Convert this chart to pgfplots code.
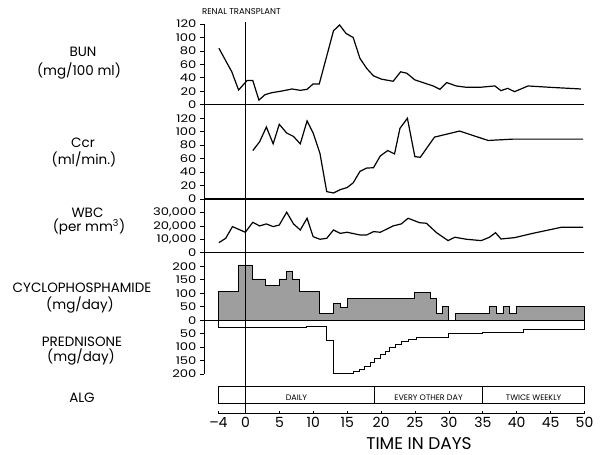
\documentclass[border=0pt]{standalone}
\usepackage{fontspec}
\setmainfont{Poppins}
\newfontfamily\tickfont[FakeStretch=1.25]{Poppins}
\usepackage{pgfplots}
\pgfplotsset{compat=1.18}
\newcommand{\lab}{\fontsize{13.5}{14}\selectfont}
\begin{document}
\begin{tikzpicture}
\path (0pt,0pt) rectangle (600pt,455pt);
\begin{axis}[at={(204pt,81pt)}, anchor=south west, x=6.78pt, y=13.46pt,
  xmin=-6.1, xmax=50, ymin=0, ymax=26, enlargelimits=false, clip=false,
  axis y line*=left, axis x line=none, xtick=\empty,
  ytick={0,...,26},
  yticklabels={200,150,100,50,0,50,100,150,200,0,{10,000},{20,000},{30,000},0,20,40,60,80,100,120,0,20,40,60,80,100,120},
  tick align=outside, major tick length=4pt,
  yticklabel style={font=\tickfont\fontsize{10.5}{11}\selectfont},
  axis line style={line width=1pt},
  every tick/.style={line width=0.8pt, black}]
% BUN
\addplot[black, line width=1.2pt, y filter/.expression={20+y/20}] coordinates {
(-3.9,84) (-2,49) (-1,22) (0.25,36) (1.1,36) (2,7) (2.9,15) (3.9,18) (5.4,20.5) (6.9,23.5) (8.1,21.5) (9.1,23) (10,31) (10.9,31) (13,110) (13.9,118.6) (14.85,106) (15.9,100) (16.9,69) (17.9,54) (18.9,43) (20.1,38) (21.8,35) (22.9,49) (23.8,47) (25,37) (26.2,33) (27.7,28) (28.7,23) (29.7,33) (31.1,28) (32.6,26) (34.6,26) (36.8,28) (37.7,21) (38.7,24.5) (39.7,19.5) (41.7,28) (44.9,26) (49.5,23.5)};
% Ccr
\addplot[black, line width=1.2pt, y filter/.expression={13+y/20}] coordinates {
(1.1,72) (2.1,85) (3.1,107) (4.1,82) (5,111) (6.1,98) (7.1,93) (8.1,82) (9.1,116) (10,98) (11,68) (12,11) (13,9) (14,14) (15,17) (15.9,24) (16.9,41) (17.9,46) (18.9,46.5) (19.9,64) (21,72) (22,67) (22.8,105) (23.9,120) (25,63) (25.8,62) (27.9,92) (31.6,101) (35.8,87) (39.5,89) (49.8,89)};
% WBC
\addplot[black, line width=1.2pt, y filter/.expression={9+y/10000}] coordinates {
(-3.9,7600) (-2.9,10800) (-1.9,19500) (0,15300) (1.1,22700) (2.1,20000) (3.1,21500) (4.1,19500) (5,20700) (6.1,30200) (7.1,21500) (8.1,17000) (9.1,25700) (10,12000) (11,10100) (12,10800) (13,17000) (14,14500) (15,15300) (16.9,13300) (17.9,13300) (18.9,15800) (19.9,15300) (21.8,20000) (23,21500) (24,25700) (25.7,22400) (26.7,22000) (28.2,15000) (29.9,9100) (30.9,11600) (32.6,10100) (34.8,9100) (36,11600) (36.9,15000) (37.7,10300) (39.7,11300) (42.4,14500) (46.6,19000) (49.8,19000)};
% Cyclophosphamide
\addplot[const plot, draw=black, line width=0.9pt, fill=black!38, y filter/.expression={4+y/50}] coordinates {
(-4,0) (-4,105) (-1,205) (1,153) (3,128) (5,153) (6,180) (7,153) (8,105) (11,25) (13,63) (14,47) (15,79) (25,104) (27.3,79) (28.2,25) (29.1,50) (30,0) (31,25) (36,50) (37,25) (38,50) (39,25) (40,50) (50,50) (50,0)} -- cycle;
% Prednisone
\addplot[const plot, black, line width=1pt, y filter/.expression={4-y/50}] coordinates {
(-4,0) (-4,27) (9,22) (12,75) (13,200) (15.9,190) (16.9,184) (17.6,171) (18.4,159) (19.1,143) (19.9,128) (20.6,116) (21.3,103) (22.1,91) (23,81) (24,72) (25.2,63) (30,51) (35,44) (41,35) (50,35) (50,0)};
% panel base lines
\draw[line width=1.1pt] (axis cs:-6.1,20) -- (axis cs:50,20);
\draw[line width=1.1pt] (axis cs:-6.1,13) -- (axis cs:50,13);
\draw[line width=1.1pt] (axis cs:-6.1,9) -- (axis cs:50,9);
\draw[line width=1.1pt] (axis cs:-6.1,4) -- (axis cs:50,4);
\draw[line width=1pt] (axis cs:0,26.15) -- (axis cs:0,-2.95);
\end{axis}
\begin{axis}[at={(218.4pt,41pt)}, anchor=south west, x=6.78pt, y=1pt,
  xmin=-4, xmax=50, ymin=0, ymax=30, enlargelimits=false, clip=false,
  axis x line*=bottom, axis y line=none,
  xtick={-4,0,5,10,15,20,25,30,35,40,45,50},
  xticklabels={\textendash4,0,5,10,15,20,25,30,35,40,45,50},
  tick align=inside, major tick length=3pt,
  xticklabel style={font=\fontsize{14}{14}\selectfont},
  axis line style={line width=1pt},
  every tick/.style={line width=0.8pt, black}]
\draw[line width=1pt] (axis cs:-4,10) rectangle (axis cs:50,27);
\draw[line width=1pt] (axis cs:19,10) -- (axis cs:19,27);
\draw[line width=1pt] (axis cs:35,10) -- (axis cs:35,27);
\node[font=\fontsize{8}{8}\selectfont, anchor=base] at (axis cs:7.5,13.3) {DAILY};
\node[font=\fontsize{8}{8}\selectfont, anchor=base] at (axis cs:27,13.3) {EVERY OTHER DAY};
\node[font=\fontsize{8}{8}\selectfont, anchor=base] at (axis cs:42.5,13.3) {TWICE WEEKLY};
\end{axis}
% left labels
\node[font=\lab, anchor=base] at (83pt,398pt) {BUN};
\node[font=\lab, anchor=base] at (79pt,379.5pt) {(mg/100 ml)};
\node[font=\lab, anchor=base] at (83pt,307pt) {Ccr};
\node[font=\lab, anchor=base] at (84pt,290.5pt) {(ml/min.)};
\node[font=\lab, anchor=base] at (87.5pt,237pt) {WBC};
\node[font=\lab, anchor=base] at (89pt,223pt) {(per mm\textsuperscript{3})};
\node[font=\lab, anchor=base] at (82pt,162pt) {CYCLOPHOSPHAMIDE};
\node[font=\lab, anchor=base] at (80pt,145pt) {(mg/day)};
\node[font=\lab, anchor=base] at (82pt,108pt) {PREDNISONE};
\node[font=\lab, anchor=base] at (81pt,93pt) {(mg/day)};
\node[font=\lab, anchor=base] at (82pt,52pt) {ALG};
\node[font=\fontsize{8.5}{9}\selectfont, anchor=base west, inner sep=0pt] at (202pt,440pt) {RENAL TRANSPLANT};
\node[font=\fontsize{17}{18}\selectfont, anchor=base, inner sep=0pt] at (419pt,5.5pt) {TIME IN DAYS};
\end{tikzpicture}
\end{document}
